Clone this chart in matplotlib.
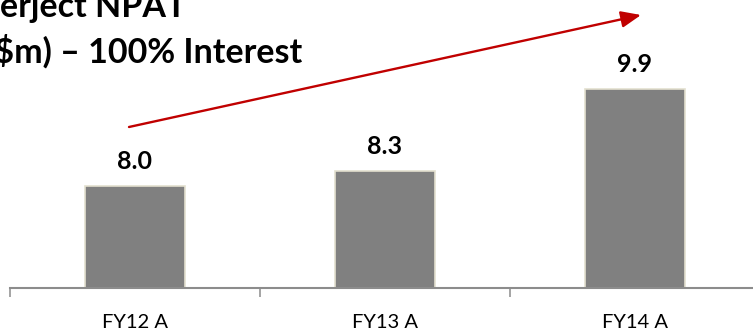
import matplotlib
matplotlib.use("Agg")
import matplotlib.pyplot as plt
from matplotlib.ticker import FixedLocator

plt.rcParams['font.family'] = ['Lato', 'DejaVu Sans']

categories = ["FY12 A", "FY13 A", "FY14 A"]
npat = [8.0, 8.3, 9.9]
value_labels = ["8.0", "8.3", "9.9"]

W, H, DPI = 753, 333, 100
fig = plt.figure(figsize=(W / DPI, H / DPI), dpi=DPI)

# axes: baseline at 288 px from top, x spans 10..760 px
base_px = 288
px_per_unit = 51.0
y_min = 6.0
ax = fig.add_axes([10 / W, (H - base_px) / H, 750 / W, base_px / H])
ax.set_xlim(-0.5, 2.5)
ax.set_ylim(y_min, y_min + base_px / px_per_unit)

x = list(range(len(categories)))
ax.bar(x, npat, width=0.4, bottom=0, color="#808080",
       edgecolor="#E3E0CF", linewidth=1.2, zorder=2)

for xi, v, lab in zip(x, npat, value_labels):
    ax.annotate(lab, (xi, v), xytext=(0, 12), textcoords="offset points",
                ha="center", va="baseline", fontsize=18, fontweight="bold",
                color="black")

for s in ["top", "left", "right"]:
    ax.spines[s].set_visible(False)
ax.spines["bottom"].set_color("#8C8C8C")
ax.spines["bottom"].set_linewidth(1.5)
ax.set_yticks([])
ax.set_xticks(x)
ax.set_xticklabels(categories, fontsize=14.5)
ax.tick_params(axis="x", which="major", length=0, pad=18.5)
ax.xaxis.set_minor_locator(FixedLocator([-0.5, 0.5, 1.5, 2.5]))
ax.tick_params(axis="x", which="minor", length=6.5, width=1.1,
               color="#8C8C8C", direction="out")

# growth arrow
ax.annotate("", xy=(641, H - 15), xycoords="figure pixels",
            xytext=(129, H - 127), textcoords="figure pixels",
            arrowprops=dict(arrowstyle="-|>,head_length=1.2,head_width=0.5",
                            mutation_scale=10, color="#C00000", lw=1.7,
                            shrinkA=0, shrinkB=0))

fig.text(0.5 / W, 1 - 17 / H, "erject NPAT", ha="left", va="baseline",
         fontsize=24.5, fontweight="bold", color="black")
fig.text(302 / W, 1 - 63 / H, "($m) – 100% Interest", ha="right",
         va="baseline", fontsize=24.5, fontweight="bold", color="black")

fig.savefig("out.png", dpi=DPI)
